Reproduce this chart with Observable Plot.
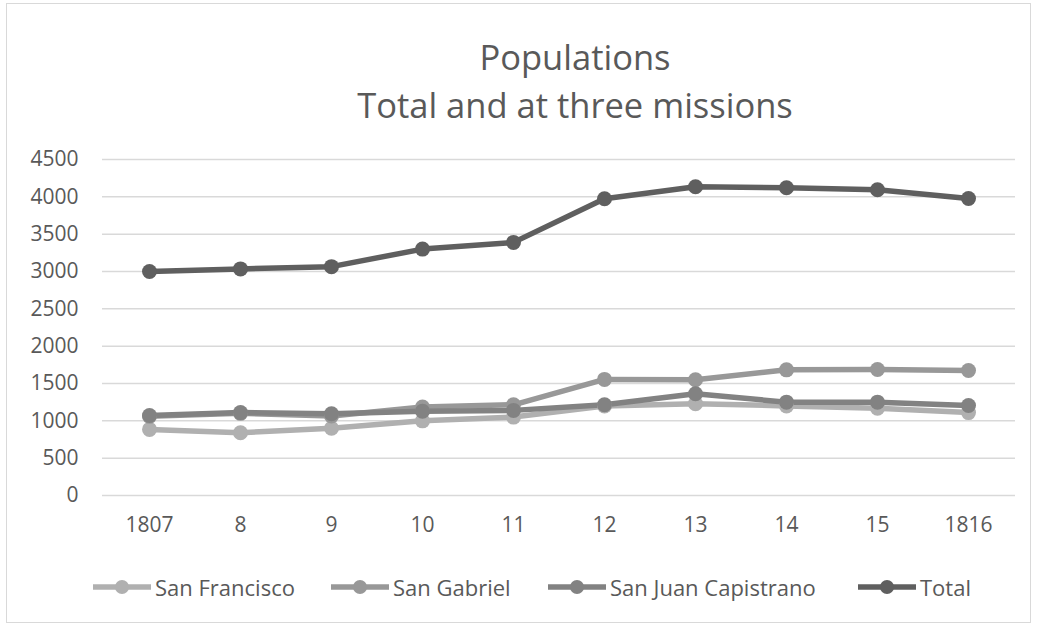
<!DOCTYPE html>
<html>
<head>
<meta charset="utf-8">
<script src="https://cdn.jsdelivr.net/npm/d3@7"></script>
<script src="https://cdn.jsdelivr.net/npm/@observablehq/plot@0.6"></script>
<style>
  html, body { margin: 0; padding: 0; background: #fff; }
  #frame { position: absolute; left: 6px; top: 3px; width: 1025px; height: 620px; border: 1px solid #d9d9d9; box-sizing: border-box; }
  #title { position: absolute; left: 0; width: 1150px; top: 33px; text-align: center; font-family: "Open Sans", sans-serif; font-size: 34.5px; line-height: 48px; color: #595959; }
  #chart { position: absolute; left: 0; top: 140px; }
  #legend { position: absolute; top: 573px; left: 0; width: 1039px; height: 28px; font-family: "Open Sans", sans-serif; font-size: 22px; color: #595959; }
  .item { position: absolute; top: 0; display: flex; align-items: center; height: 28px; white-space: nowrap; }
  .item svg { margin-right: 3px; }
</style>
</head>
<body>
<div id="frame"></div>
<div id="title">Populations<br>Total and at three missions</div>
<div id="chart"></div>
<div id="legend"></div>
<script>
const years = ["1807", "8", "9", "10", "11", "12", "13", "14", "15", "1816"];
const seriesNames = ["San Francisco", "San Gabriel", "San Juan Capistrano", "Total"];
const sanFrancisco = [885, 840, 900, 1000, 1050, 1200, 1230, 1200, 1170, 1110];
const sanGabriel = [1060, 1100, 1065, 1185, 1215, 1555, 1550, 1683, 1688, 1675];
const sanJuanCapistrano = [1071, 1110, 1095, 1130, 1140, 1215, 1362, 1250, 1250, 1205];
const total = [3000, 3035, 3065, 3300, 3390, 3975, 4135, 4122, 4095, 3978];
const colors = ["#b0b0b0", "#989898", "#828282", "#5f5f5f"];
const yTicks = [0, 500, 1000, 1500, 2000, 2500, 3000, 3500, 4000, 4500];
const legendX = [92, 330, 547, 857];

const allValues = [sanFrancisco, sanGabriel, sanJuanCapistrano, total];
const data = [];
seriesNames.forEach((s, i) => years.forEach((y, j) => data.push({series: s, year: y, value: allValues[i][j]})));

const chart = Plot.plot({
  width: 1039,
  height: 400,
  marginLeft: 102,
  marginRight: 24,
  marginTop: 19,
  marginBottom: 45,
  style: {fontFamily: "'Open Sans', sans-serif", fontSize: "21px", color: "#595959", background: "transparent"},
  x: {type: "point", domain: years, padding: 0.5, label: null},
  y: {domain: [0, 4500], ticks: yTicks, label: null},
  color: {domain: seriesNames, range: colors},
  marks: [
    Plot.gridY(yTicks, {stroke: "#d9d9d9", strokeOpacity: 1, strokeWidth: 1.5}),
    Plot.axisY(yTicks, {tickSize: 0, tickPadding: 24, label: null, fill: "#595959", tickFormat: d => String(d)}),
    Plot.axisX({tickSize: 0, tickPadding: 22, label: null, fill: "#595959"}),
    ...seriesNames.map(s => Plot.line(data.filter(d => d.series === s), {x: "year", y: "value", stroke: "series", strokeWidth: 5.5})),
    ...seriesNames.map(s => Plot.dot(data.filter(d => d.series === s), {x: "year", y: "value", fill: "series", r: 7.5}))
  ]
});
document.getElementById("chart").appendChild(chart);

const legend = document.getElementById("legend");
seriesNames.forEach((s, i) => {
  const div = document.createElement("div");
  div.className = "item";
  div.style.left = legendX[i] + "px";
  div.innerHTML = `<svg width="60" height="20"><line x1="1" y1="10" x2="59" y2="10" stroke="${colors[i]}" stroke-width="5.5"/><circle cx="30" cy="10" r="7" fill="${colors[i]}"/></svg><span>${s}</span>`;
  legend.appendChild(div);
});
</script>
</body>
</html>
